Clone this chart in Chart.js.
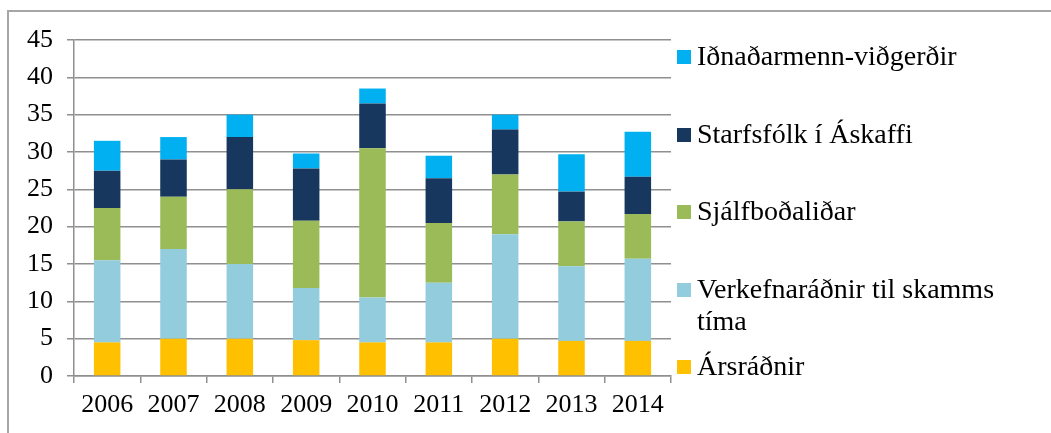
<!DOCTYPE html>
<html>
<head>
<meta charset="utf-8">
<script src="https://cdn.jsdelivr.net/npm/chart.js@4/dist/chart.umd.min.js"></script>
<style>
  html, body { margin: 0; padding: 0; background: #fff; }
  #wrap { position: relative; width: 1051px; height: 433px; overflow: hidden; }
  #frame { position: absolute; left: 7px; top: 10px; width: 1100px; height: 500px;
           border-top: 2px solid #a6a6a6; border-left: 2px solid #a6a6a6; }
  canvas { position: absolute; left: 0; top: 0; }
</style>
</head>
<body>
<div id="wrap">
  <div id="frame"></div>
  <canvas id="chart" width="1051" height="433"></canvas>
</div>
<script>
  const years = ['2006', '2007', '2008', '2009', '2010', '2011', '2012', '2013', '2014'];

  // stacked from the bottom up
  const arsradnir = [4.5, 5, 5, 4.8, 4.5, 4.5, 5, 4.7, 4.7];
  const verkefnaradnir = [11, 12, 10, 7, 6, 8, 14, 10, 11];
  const sjalfbodalidar = [7, 7, 10, 9, 20, 8, 8, 6, 6];
  const starfsfolk = [5, 5, 7, 7, 6, 6, 6, 4, 5];
  const idnadarmenn = [4, 3, 3, 2, 2, 3, 2, 5, 6];

  const yTicks = [0, 5, 10, 15, 20, 25, 30, 35, 40, 45];

  const FONT = '"Liberation Serif", "Times New Roman", serif';
  const GRID = '#8f8f8f';

  // legend drawn at the right, top-to-bottom in reverse stack order
  const sideLegend = {
    id: 'sideLegend',
    afterDraw(chart) {
      const ctx = chart.ctx;
      const centers = [57, 135, 212, 290, 367];
      const x0 = 677;
      const maxW = 345;
      ctx.save();
      ctx.font = '28px ' + FONT;
      ctx.textBaseline = 'middle';
      ctx.fillStyle = '#000';
      const sets = chart.data.datasets.slice().reverse();
      sets.forEach((ds, i) => {
        const cy = centers[i];
        ctx.fillStyle = ds.backgroundColor;
        ctx.fillRect(x0, cy - 7, 14, 14);
        ctx.fillStyle = '#000';
        // simple word wrap
        const words = ds.label.split(' ');
        let line = '';
        let y = cy + 1;
        words.forEach((w) => {
          const test = line ? line + ' ' + w : w;
          if (ctx.measureText(test).width > maxW && line) {
            ctx.fillText(line, x0 + 20, y);
            line = w;
            y += 32;
          } else {
            line = test;
          }
        });
        ctx.fillText(line, x0 + 20, y);
      });
      ctx.restore();
    },
  };

  new Chart(document.getElementById('chart'), {
    type: 'bar',
    data: {
      labels: years,
      datasets: [
        { label: 'Ársráðnir', data: arsradnir, backgroundColor: '#ffc000' },
        { label: 'Verkefnaráðnir til skamms tíma', data: verkefnaradnir, backgroundColor: '#93cddd' },
        { label: 'Sjálfboðaliðar', data: sjalfbodalidar, backgroundColor: '#9bbb59' },
        { label: 'Starfsfólk í Áskaffi', data: starfsfolk, backgroundColor: '#17375e' },
        { label: 'Iðnaðarmenn-viðgerðir', data: idnadarmenn, backgroundColor: '#00b0f0' },
      ],
    },
    options: {
      responsive: false,
      animation: false,
      layout: { padding: { left: 0, right: 380, top: 40, bottom: 0 } },
      datasets: {
        bar: { barPercentage: 0.8, categoryPercentage: 0.5 },
      },
      plugins: {
        legend: { display: false },
        tooltip: { enabled: false },
      },
      scales: {
        x: {
          stacked: true,
          offset: true,
          grid: { display: true, drawOnChartArea: false, tickLength: 7, color: GRID, lineWidth: 1.5 },
          border: { display: true, color: GRID, width: 1.5 },
          ticks: { color: '#000', font: { family: FONT, size: 26 }, padding: 7, maxRotation: 0 },
          afterFit: (scale) => { scale.height = 57; },
        },
        y: {
          stacked: true,
          min: 0,
          max: 45,
          afterBuildTicks: (scale) => { scale.ticks = yTicks.map((v) => ({ value: v })); },
          grid: { color: GRID, lineWidth: 1.5, tickLength: 7 },
          border: { display: true, color: GRID, width: 1.5 },
          ticks: { color: '#000', font: { family: FONT, size: 26 }, padding: 14 },
          afterFit: (scale) => { scale.width = 74; },
        },
      },
    },
    plugins: [sideLegend],
  });
</script>
</body>
</html>
